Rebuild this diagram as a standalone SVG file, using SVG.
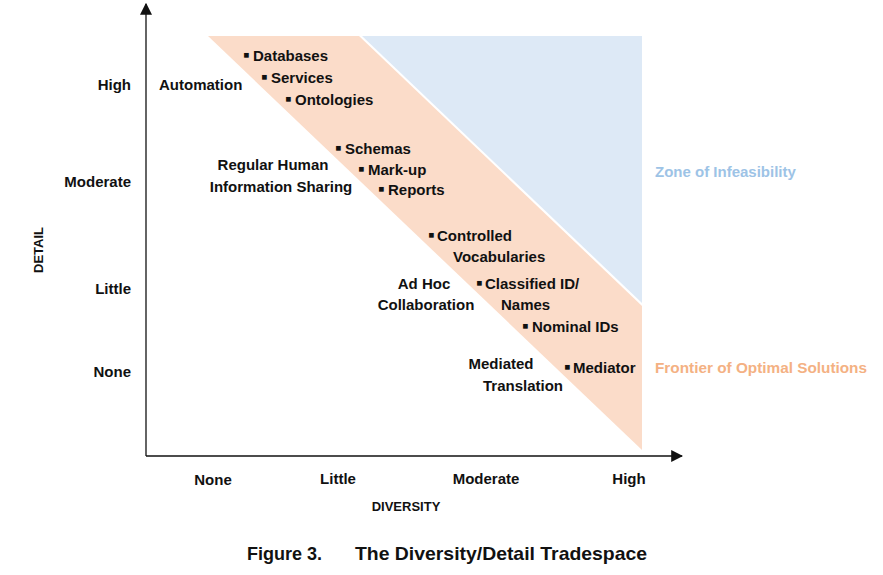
<svg xmlns="http://www.w3.org/2000/svg" width="883" height="575" viewBox="0 0 883 575">
<defs>
<style>
text{font-family:"Liberation Sans",Arial,sans-serif;font-weight:bold;font-size:15px;fill:#111}
.b{font-size:19px}
.ax{font-size:15px}
.axt{font-size:13px}
.zone{fill:#9dc3e6}
.front{fill:#f4b183}
.cap{font-size:19px;font-weight:bold}
.axis{stroke:#111;stroke-width:1.3;fill:none}
</style>
<marker id="arr" viewBox="0 0 10 10" refX="9" refY="5" markerWidth="12" markerHeight="12" markerUnits="userSpaceOnUse" orient="auto">
<path d="M0,0 L10,5 L0,10 Z" fill="#111"/>
</marker>
</defs>
<rect width="883" height="575" fill="#fff"/>
<g id="zones">
<polygon id="frontier-band" points="208,36 359,36 642,306 642,450" fill="#fbdcc9"/>
<polygon id="infeasible" points="362,36 642,36 642,303" fill="#dde9f6"/>
</g>
<g id="connectors">
<line class="axis" x1="146" y1="456" x2="146" y2="4" marker-end="url(#arr)"/>
<line class="axis" x1="146" y1="456" x2="682" y2="456" marker-end="url(#arr)"/>
</g>
<g id="y-labels">
<text class="ax" x="131" y="90" text-anchor="end">High</text>
<text class="ax" x="131" y="187" text-anchor="end">Moderate</text>
<text class="ax" x="131" y="294" text-anchor="end">Little</text>
<text class="ax" x="131" y="377" text-anchor="end">None</text>
<text class="axt" transform="translate(43,250) rotate(-90)" text-anchor="middle">DETAIL</text>
</g>
<g id="x-labels">
<text class="ax" x="213" y="485" text-anchor="middle">None</text>
<text class="ax" x="338" y="484" text-anchor="middle">Little</text>
<text class="ax" x="486" y="484" text-anchor="middle">Moderate</text>
<text class="ax" x="629" y="484" text-anchor="middle">High</text>
<text class="axt" x="406" y="511" text-anchor="middle">DIVERSITY</text>
</g>
<g id="automation">
<text x="159" y="90">Automation</text>
<text y="61"><tspan class="b" x="243">▪</tspan><tspan x="253">Databases</tspan></text>
<text y="83"><tspan class="b" x="261">▪</tspan><tspan x="271">Services</tspan></text>
<text y="105"><tspan class="b" x="285">▪</tspan><tspan x="295">Ontologies</tspan></text>
</g>
<g id="human-sharing">
<text x="273" y="170" text-anchor="middle">Regular Human</text>
<text x="281" y="192" text-anchor="middle">Information Sharing</text>
<text y="154"><tspan class="b" x="335">▪</tspan><tspan x="345">Schemas</tspan></text>
<text y="175"><tspan class="b" x="358">▪</tspan><tspan x="368">Mark-up</tspan></text>
<text y="195"><tspan class="b" x="378">▪</tspan><tspan x="388">Reports</tspan></text>
</g>
<g id="ad-hoc">
<text y="241"><tspan class="b" x="428">▪</tspan><tspan x="437">Controlled</tspan></text>
<text x="453" y="262">Vocabularies</text>
<text x="424" y="289" text-anchor="middle">Ad Hoc</text>
<text x="426" y="310" text-anchor="middle">Collaboration</text>
<text y="289"><tspan class="b" x="476">▪</tspan><tspan x="485">Classified ID/</tspan></text>
<text x="501" y="310">Names</text>
<text y="332"><tspan class="b" x="522">▪</tspan><tspan x="532">Nominal IDs</tspan></text>
</g>
<g id="mediated">
<text x="501" y="369" text-anchor="middle">Mediated</text>
<text x="523" y="391" text-anchor="middle">Translation</text>
<text y="373"><tspan class="b" x="564">▪</tspan><tspan x="573">Mediator</tspan></text>
</g>
<g id="zone-labels">
<text class="zone" x="655" y="177">Zone of Infeasibility</text>
<text class="front" x="655" y="373" textLength="212" lengthAdjust="spacingAndGlyphs">Frontier of Optimal Solutions</text>
</g>
<g id="caption">
<text class="cap" x="247" y="560" textLength="75" lengthAdjust="spacingAndGlyphs">Figure 3.</text>
<text class="cap" x="355" y="560" textLength="292" lengthAdjust="spacingAndGlyphs">The Diversity/Detail Tradespace</text>
</g>
</svg>
